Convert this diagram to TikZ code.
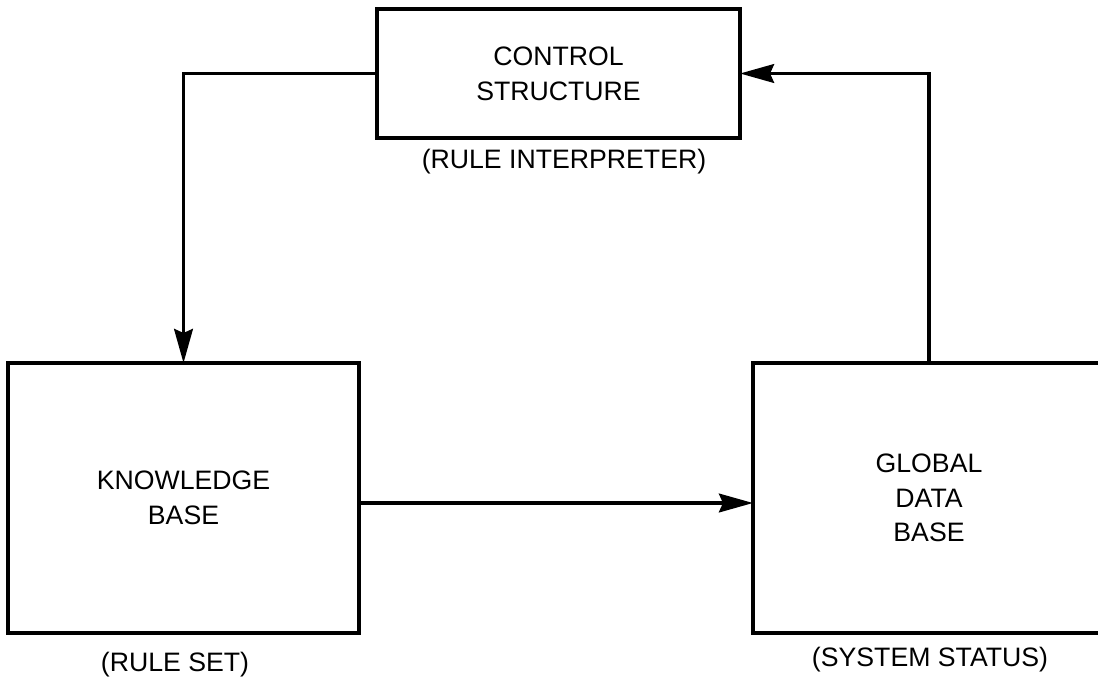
\documentclass[tikz,border=0pt]{standalone}
\usepackage{fontspec}
\setmainfont{Liberation Sans}
\usetikzlibrary{arrows.meta}

\tikzset{every picture/.style={line width=2.8pt}}
\tikzset{
	blockbox/.style={draw, inner sep=0pt, outer sep=0pt, align=center, font=\fontsize{20}{26}\selectfont},
	blocklabel/.style={inner sep=0pt, font=\fontsize{20}{26}\selectfont},
	flowarrow/.style={-{Stealth[length=25.5pt,width=14pt,inset=3pt]}}
}

\begin{document}
\begin{tikzpicture}[x=0.75pt,y=0.75pt,yscale=-1,xscale=1]
	\useasboundingbox (0,0) rectangle (1098,678);
	\clip (0,0) rectangle (1098,678);

	%Shape: Rectangle [id:ctrl] 
	\node [blockbox, minimum width=272.25pt, minimum height=96.75pt] (ctrl) at (558.5,73.5) {CONTROL\\STRUCTURE};
	%Shape: Rectangle [id:kb] 
	\node [blockbox, minimum width=263.25pt, minimum height=202.5pt] (kb) at (183.5,498) {KNOWLEDGE\\BASE};
	%Shape: Rectangle [id:gdb] 
	\node [blockbox, minimum width=264pt, minimum height=202.5pt] (gdb) at (929,498) {GLOBAL\\DATA\\BASE};

	%Straight Lines [id:ctrl-kb] 
	\draw [flowarrow] (ctrl.west) -| (kb.north) ;
	%Straight Lines [id:kb-gdb] 
	\draw [flowarrow] ([yshift=3.75pt]kb.east) -- ([yshift=3.75pt]gdb.west) ;
	%Straight Lines [id:gdb-ctrl] 
	\draw [flowarrow] (gdb.north) |- (ctrl.east) ;

	% Text Node
	\node [blocklabel] (ctrllabel) at (564,162) {(RULE INTERPRETER)};
	% Text Node
	\node [blocklabel] (kblabel) at (175,665) {(RULE SET)};
	% Text Node
	\node [blocklabel] (gdblabel) at (930,660) {(SYSTEM STATUS)};

\end{tikzpicture}
\end{document}
